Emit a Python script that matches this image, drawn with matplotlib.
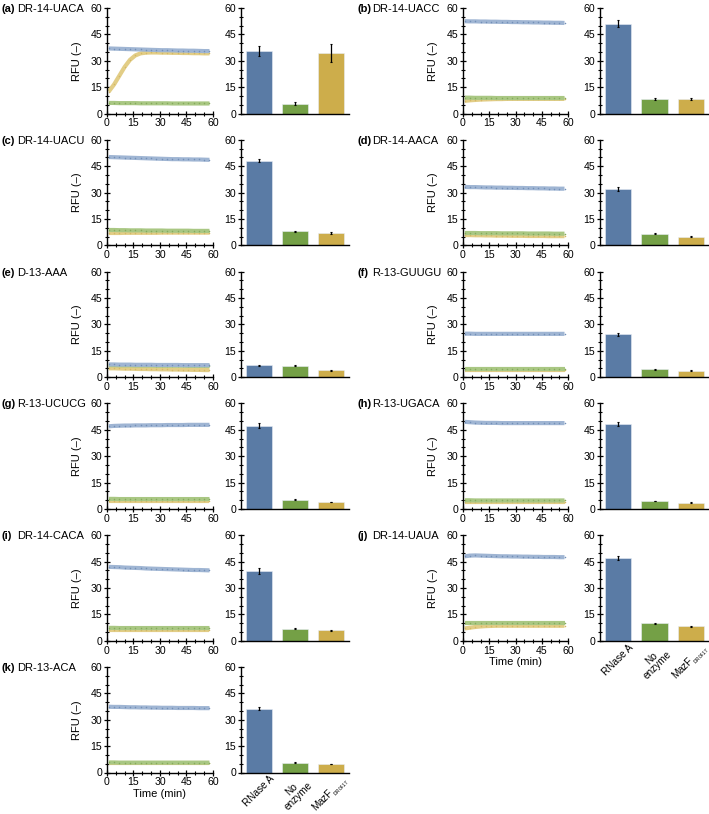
import matplotlib
matplotlib.use("Agg")
import matplotlib.pyplot as plt
from matplotlib.ticker import MultipleLocator

plt.rcParams['font.family'] = ['Liberation Sans', 'DejaVu Sans']
plt.rcParams['mathtext.fontset'] = 'custom'
plt.rcParams['mathtext.rm'] = 'Liberation Sans'

# ---------------- data ----------------
time_min = [1, 4, 7, 10, 13, 16, 19, 22, 25, 28, 31, 34, 37, 40, 43, 46, 49, 52, 55, 58]

panel_letters = ['a', 'b', 'c', 'd', 'e', 'f', 'g', 'h', 'i', 'j', 'k']
panel_names = ['DR-14-UACA', 'DR-14-UACC', 'DR-14-UACU', 'DR-14-AACA', 'D-13-AAA',
               'R-13-GUUGU', 'R-13-UCUCG', 'R-13-UGACA', 'DR-14-CACA', 'DR-14-UAUA',
               'DR-13-ACA']

bar_categories = ['RNase A', 'No\nenzyme', 'MazF$_{{}_{\\mathrm{DR0417}}}$']

# time-course series (RNase A, No enzyme, MazF)
rnase_a = {
    'a': [37.0, 36.9, 36.8, 36.7, 36.6, 36.5, 36.4, 36.3, 36.2, 36.1, 36.0, 36.0, 35.9, 35.8, 35.8, 35.7, 35.7, 35.6, 35.5, 35.5],
    'b': [52.5, 52.4, 52.4, 52.3, 52.3, 52.2, 52.2, 52.1, 52.1, 52.0, 52.0, 51.9, 51.9, 51.8, 51.8, 51.7, 51.7, 51.6, 51.6, 51.5],
    'c': [50.2, 50.1, 50.0, 49.9, 49.8, 49.7, 49.6, 49.5, 49.4, 49.3, 49.2, 49.1, 49.0, 49.0, 48.9, 48.9, 48.8, 48.8, 48.7, 48.6],
    'd': [33.2, 33.1, 33.1, 33.0, 32.9, 32.9, 32.8, 32.8, 32.7, 32.7, 32.6, 32.6, 32.5, 32.5, 32.4, 32.4, 32.3, 32.3, 32.2, 32.2],
    'e': [7.2, 7.2, 7.1, 7.1, 7.1, 7.0, 7.0, 7.0, 7.0, 6.9, 6.9, 6.9, 6.9, 6.9, 6.8, 6.8, 6.8, 6.8, 6.8, 6.8],
    'f': [24.7, 24.7, 24.6, 24.6, 24.6, 24.6, 24.6, 24.6, 24.6, 24.6, 24.6, 24.6, 24.6, 24.6, 24.6, 24.6, 24.6, 24.6, 24.6, 24.6],
    'g': [47.0, 47.2, 47.3, 47.4, 47.4, 47.5, 47.5, 47.5, 47.6, 47.6, 47.6, 47.7, 47.7, 47.7, 47.7, 47.8, 47.8, 47.8, 47.8, 47.8],
    'h': [49.5, 49.3, 49.1, 49.0, 48.9, 48.9, 48.9, 48.8, 48.8, 48.8, 48.8, 48.8, 48.8, 48.8, 48.8, 48.8, 48.8, 48.8, 48.8, 48.8],
    'i': [42.0, 41.9, 41.8, 41.6, 41.5, 41.4, 41.3, 41.1, 41.0, 40.9, 40.8, 40.7, 40.6, 40.5, 40.4, 40.3, 40.2, 40.2, 40.1, 40.0],
    'j': [48.0, 48.4, 48.5, 48.4, 48.3, 48.2, 48.1, 48.0, 48.0, 47.9, 47.9, 47.8, 47.8, 47.7, 47.7, 47.6, 47.6, 47.6, 47.5, 47.5],
    'k': [37.4, 37.3, 37.3, 37.2, 37.1, 37.1, 37.0, 37.0, 36.9, 36.9, 36.8, 36.8, 36.8, 36.7, 36.7, 36.7, 36.7, 36.6, 36.6, 36.6],
}
no_enzyme = {
    'a': [6.0, 6.0, 5.9, 5.9, 5.9, 5.9, 5.8, 5.8, 5.8, 5.8, 5.8, 5.8, 5.7, 5.7, 5.7, 5.7, 5.7, 5.7, 5.7, 5.7],
    'b': [9.0, 9.0, 8.9, 8.9, 8.9, 8.9, 8.8, 8.8, 8.8, 8.8, 8.8, 8.8, 8.8, 8.8, 8.8, 8.8, 8.8, 8.8, 8.8, 8.8],
    'c': [8.7, 8.7, 8.6, 8.6, 8.5, 8.5, 8.5, 8.4, 8.4, 8.4, 8.4, 8.3, 8.3, 8.3, 8.3, 8.3, 8.2, 8.2, 8.2, 8.2],
    'd': [7.0, 7.0, 7.0, 6.9, 6.9, 6.9, 6.9, 6.8, 6.8, 6.8, 6.8, 6.8, 6.7, 6.7, 6.7, 6.7, 6.7, 6.6, 6.6, 6.6],
    'e': [6.8, 6.8, 6.7, 6.7, 6.7, 6.6, 6.6, 6.6, 6.6, 6.5, 6.5, 6.5, 6.5, 6.5, 6.5, 6.4, 6.4, 6.4, 6.4, 6.4],
    'f': [4.8, 4.8, 4.8, 4.8, 4.8, 4.8, 4.8, 4.8, 4.8, 4.8, 4.8, 4.8, 4.8, 4.8, 4.8, 4.8, 4.8, 4.8, 4.8, 4.8],
    'g': [5.7, 5.7, 5.6, 5.6, 5.6, 5.6, 5.6, 5.6, 5.6, 5.6, 5.6, 5.6, 5.6, 5.6, 5.6, 5.6, 5.6, 5.6, 5.6, 5.6],
    'h': [4.9, 4.9, 4.8, 4.8, 4.8, 4.8, 4.8, 4.8, 4.8, 4.8, 4.8, 4.8, 4.8, 4.8, 4.8, 4.8, 4.8, 4.8, 4.8, 4.8],
    'i': [7.3, 7.3, 7.2, 7.2, 7.2, 7.2, 7.2, 7.2, 7.2, 7.2, 7.2, 7.2, 7.2, 7.2, 7.2, 7.2, 7.2, 7.2, 7.2, 7.2],
    'j': [10.0, 10.0, 10.0, 10.0, 10.0, 10.0, 10.0, 10.0, 10.0, 10.0, 10.0, 10.0, 10.0, 10.0, 10.0, 10.0, 10.0, 10.0, 10.0, 10.0],
    'k': [5.7, 5.7, 5.6, 5.6, 5.6, 5.6, 5.6, 5.6, 5.6, 5.6, 5.6, 5.6, 5.6, 5.6, 5.6, 5.6, 5.6, 5.6, 5.6, 5.6],
}
mazf = {
    'a': [12.5, 16.5, 21.5, 26.5, 30.5, 33.0, 34.2, 34.6, 34.7, 34.7, 34.6, 34.6, 34.5, 34.5, 34.4, 34.4, 34.3, 34.3, 34.2, 34.2],
    'b': [7.2, 7.5, 7.7, 7.9, 8.0, 8.1, 8.2, 8.2, 8.3, 8.3, 8.3, 8.3, 8.3, 8.3, 8.3, 8.3, 8.3, 8.3, 8.3, 8.3],
    'c': [7.0, 7.0, 7.0, 7.1, 7.1, 7.1, 7.1, 7.1, 7.1, 7.1, 7.2, 7.2, 7.2, 7.2, 7.2, 7.2, 7.2, 7.2, 7.2, 7.2],
    'd': [5.8, 5.8, 5.7, 5.7, 5.6, 5.6, 5.5, 5.5, 5.5, 5.4, 5.4, 5.4, 5.3, 5.3, 5.3, 5.3, 5.2, 5.2, 5.2, 5.2],
    'e': [5.0, 5.0, 4.9, 4.8, 4.8, 4.7, 4.6, 4.6, 4.5, 4.5, 4.4, 4.4, 4.3, 4.3, 4.2, 4.2, 4.1, 4.1, 4.0, 4.0],
    'f': [3.8, 3.8, 3.8, 3.8, 3.8, 3.8, 3.8, 3.8, 3.8, 3.8, 3.8, 3.8, 3.8, 3.8, 3.8, 3.8, 3.8, 3.8, 3.8, 3.8],
    'g': [4.7, 4.7, 4.7, 4.7, 4.7, 4.7, 4.7, 4.7, 4.7, 4.7, 4.7, 4.7, 4.7, 4.7, 4.7, 4.7, 4.7, 4.7, 4.7, 4.7],
    'h': [3.9, 3.9, 3.9, 3.9, 3.9, 3.9, 3.9, 3.9, 3.9, 3.9, 3.9, 3.9, 3.9, 3.9, 3.9, 3.9, 3.9, 3.9, 3.9, 3.9],
    'i': [6.2, 6.2, 6.2, 6.2, 6.2, 6.2, 6.2, 6.2, 6.2, 6.2, 6.2, 6.2, 6.2, 6.2, 6.2, 6.2, 6.2, 6.2, 6.2, 6.2],
    'j': [7.0, 7.4, 7.8, 8.1, 8.3, 8.4, 8.5, 8.5, 8.5, 8.5, 8.5, 8.5, 8.5, 8.5, 8.5, 8.5, 8.5, 8.5, 8.5, 8.5],
    'k': [5.2, 5.2, 5.2, 5.2, 5.2, 5.2, 5.2, 5.2, 5.2, 5.2, 5.2, 5.2, 5.2, 5.2, 5.2, 5.2, 5.2, 5.2, 5.2, 5.2],
}

# endpoint bar values and errors: [RNase A, No enzyme, MazF]
bar_means = {
    'a': [35.5, 5.5, 34.3], 'b': [51.0, 8.3, 8.3], 'c': [48.2, 8.0, 7.0],
    'd': [32.0, 6.5, 5.0], 'e': [6.7, 6.4, 4.0], 'f': [24.3, 4.5, 3.6],
    'g': [47.3, 5.3, 4.0], 'h': [48.3, 4.5, 3.5], 'i': [39.5, 6.8, 6.0],
    'j': [47.0, 9.8, 8.3], 'k': [36.3, 5.5, 4.8],
}
bar_errs = {
    'a': [3.0, 0.8, 5.0], 'b': [2.0, 0.5, 0.4], 'c': [1.0, 0.3, 0.3],
    'd': [1.2, 0.3, 0.2], 'e': [0.2, 0.2, 0.3], 'f': [0.8, 0.2, 0.2],
    'g': [1.5, 0.2, 0.2], 'h': [1.0, 0.2, 0.2], 'i': [1.8, 0.2, 0.3],
    'j': [1.2, 0.5, 0.3], 'k': [1.0, 0.2, 0.2],
}

# ---------------- style ----------------
bar_colors = ['#5a7ba5', '#74a046', '#cdad4b']
band_colors = ['#9fb5d3', '#a9c783', '#e2cd86']
dot_colors = ['#7390b8', '#86ab5c', '#d4b865']

W, H = 709, 814
fig = plt.figure(figsize=(W / 100, H / 100), dpi=100)

FS = 7.6
col_x = [(107, 106, 241, 108), (463, 105, 600, 109)]
row_top0, row_pitch, ax_h = 8, 131.8, 105.5


def style_axis(ax):
    for s in ['top', 'right']:
        ax.spines[s].set_visible(False)
    for s in ['left', 'bottom']:
        ax.spines[s].set_linewidth(1.0)
    ax.set_ylim(0, 60)
    ax.yaxis.set_major_locator(MultipleLocator(15))
    ax.yaxis.set_minor_locator(MultipleLocator(5))
    ax.tick_params(axis='both', which='major', direction='inout', length=4, width=0.9,
                   labelsize=FS, pad=1.5)
    ax.tick_params(axis='both', which='minor', direction='inout', length=2.5, width=0.8)


for idx, key in enumerate(panel_letters):
    col = idx % 2
    row = idx // 2
    lx, lw_, bx, bw = col_x[col]
    top = row_top0 + row * row_pitch
    bottom_frac = 1 - (top + ax_h) / H
    h_frac = ax_h / H

    # line panel
    ax = fig.add_axes([lx / W, bottom_frac, lw_ / W, h_frac])
    style_axis(ax)
    ax.set_xlim(0, 60)
    ax.xaxis.set_major_locator(MultipleLocator(15))
    ax.xaxis.set_minor_locator(MultipleLocator(5))
    series = [mazf[key], no_enzyme[key], rnase_a[key]]
    cidx = [2, 1, 0]
    for ser, ci in zip(series, cidx):
        ax.plot(time_min, ser, color=band_colors[ci], lw=3.0, solid_capstyle='butt',
                zorder=2 + (2 - ci))
        ax.plot(time_min, ser, ls='none', marker='o', ms=1.1, mew=0,
                color=dot_colors[ci], zorder=2.5 + (2 - ci))
    ax.set_ylabel('RFU (–)', fontsize=FS + 0.4, labelpad=6)

    # bar panel
    bx_ax = fig.add_axes([bx / W, bottom_frac, bw / W, h_frac])
    style_axis(bx_ax)
    pos = [0, 1, 2]
    bx_ax.bar(pos, bar_means[key], width=0.72, color=bar_colors,
              edgecolor='#e8eef5', linewidth=0.4, zorder=2)
    bx_ax.errorbar(pos, bar_means[key], yerr=bar_errs[key], fmt='none',
                   ecolor='black', elinewidth=0.9, capsize=1.0, capthick=0.8, zorder=3)
    bx_ax.set_xlim(-0.5, 2.5)
    bx_ax.set_xticks(pos)
    bx_ax.tick_params(axis='x', which='both', length=0, pad=1)

    last_row = key in ('j', 'k')
    if last_row:
        ax.set_xlabel('Time (min)', fontsize=FS + 0.4, labelpad=1)
        bx_ax.set_xticklabels(bar_categories, rotation=45, ha='center', va='top',
                              fontsize=7.2, linespacing=0.95)
    else:
        bx_ax.set_xticklabels([])

    # panel label
    label_x = 2 if col == 0 else 357
    fig.text(label_x / W, 1 - (top + 1) / H, f'({key})', fontsize=FS + 0.4,
             fontweight='bold', ha='left', va='center')
    fig.text((label_x + 15) / W, 1 - (top + 1) / H, panel_names[idx],
             fontsize=FS + 0.4, ha='left', va='center')

fig.savefig('out.png', dpi=100)
